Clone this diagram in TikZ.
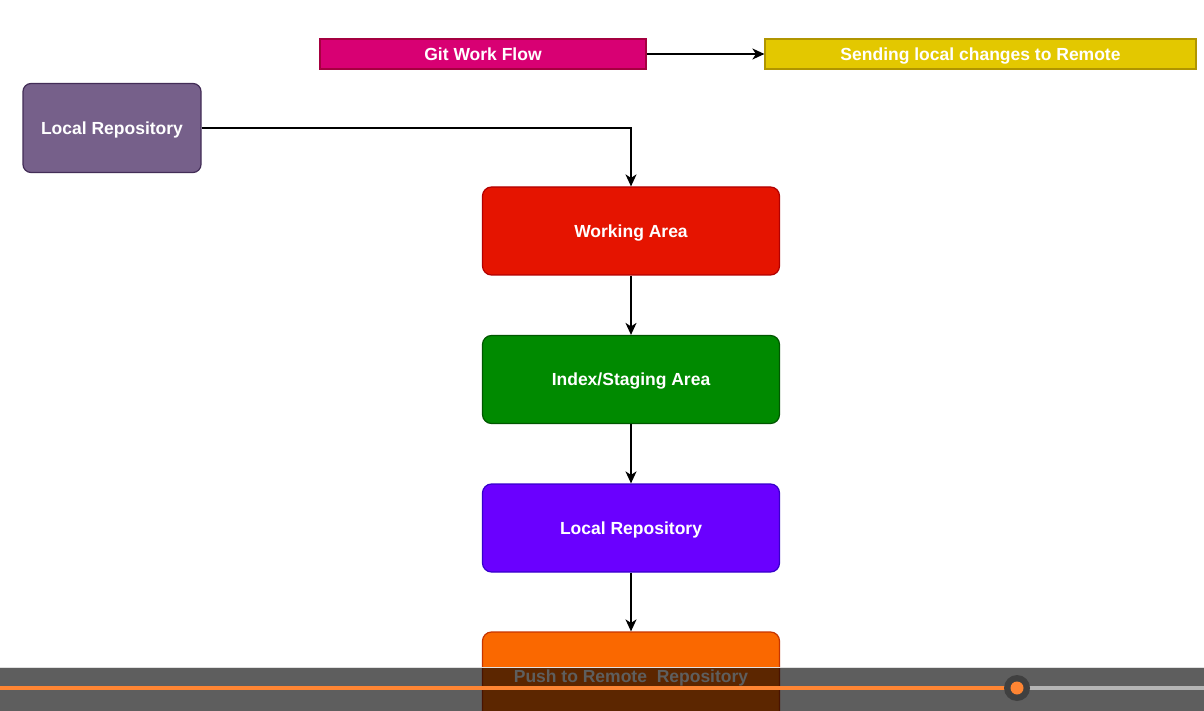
\documentclass[tikz,border=0pt]{standalone}
\usepackage{fontspec}
\setmainfont{Liberation Sans}
\usetikzlibrary{arrows.meta}
\definecolor{gitfill}{HTML}{D80073}
\definecolor{gitdraw}{HTML}{A50040}
\definecolor{sendfill}{HTML}{E3C800}
\definecolor{senddraw}{HTML}{B09500}
\definecolor{lrfill}{HTML}{76608A}
\definecolor{lrdraw}{HTML}{432D57}
\definecolor{wafill}{HTML}{E51400}
\definecolor{wadraw}{HTML}{B20000}
\definecolor{ixfill}{HTML}{008A00}
\definecolor{ixdraw}{HTML}{005700}
\definecolor{lpfill}{HTML}{6A00FF}
\definecolor{lpdraw}{HTML}{3700CC}
\definecolor{pufill}{HTML}{FA6800}
\definecolor{pudraw}{HTML}{C73500}
\definecolor{progress}{HTML}{FF8533}
\definecolor{track}{HTML}{B5B5B5}
\definecolor{knob}{HTML}{404040}
\tikzset{
  box/.style={draw, line width=1.2pt, inner sep=0pt, text=white,
    text height=12.5pt, text depth=0pt,
    font=\fontsize{17.5}{20}\selectfont\bfseries},
  flat/.style={box, rectangle},
  rbox/.style={box, rounded corners=9pt, minimum width=297pt, minimum height=88pt},
  conn/.style={line width=1.6pt, -{Stealth[length=12pt,width=11pt,inset=3.5pt]}}
}
\begin{document}
\begin{tikzpicture}[x=1pt,y=-1pt]
\useasboundingbox (0,0) rectangle (1204,711);
\clip (0,0) rectangle (1204,711);
\fill[white] (0,0) rectangle (1204,711);
\node[flat, fill=gitfill, draw=gitdraw, minimum width=326pt, minimum height=30pt] (git) at (483,54) {Git Work Flow};
\node[flat, fill=sendfill, draw=senddraw, minimum width=431pt, minimum height=30pt] (send) at (980.5,54) {Sending local changes to Remote};
\node[box, rounded corners=8pt, fill=lrfill, draw=lrdraw, minimum width=178pt, minimum height=89pt] (lr) at (112,128) {Local Repository};
\node[rbox, fill=wafill, draw=wadraw] (wa) at (631,231) {Working Area};
\node[rbox, fill=ixfill, draw=ixdraw] (ix) at (631,379.5) {Index/Staging Area};
\node[rbox, fill=lpfill, draw=lpdraw] (lp) at (631,528) {Local Repository};
\node[rbox, fill=pufill, draw=pudraw] (pu) at (631,676) {Push to Remote\ \ Repository};
\draw[conn] (git) -- (send);
\draw[conn] (lr.east) -| (wa.north);
\draw[conn] (wa) -- (ix);
\draw[conn] (ix) -- (lp);
\draw[conn] (lp) -- (pu);
% video player overlay
\fill[black, opacity=0.63] (0,668) rectangle (1204,711);
\draw[black!12, line width=1pt] (0,667.5) -- (1204,667.5);
\coordinate (k) at (1017,688);
\draw[track, line width=4pt] (k) -- (1204,688);
\draw[progress, line width=4pt] (0,688) -- (k);
\fill[knob] (k) circle (13pt);
\fill[progress] (k) circle (6.5pt);
\end{tikzpicture}
\end{document}
